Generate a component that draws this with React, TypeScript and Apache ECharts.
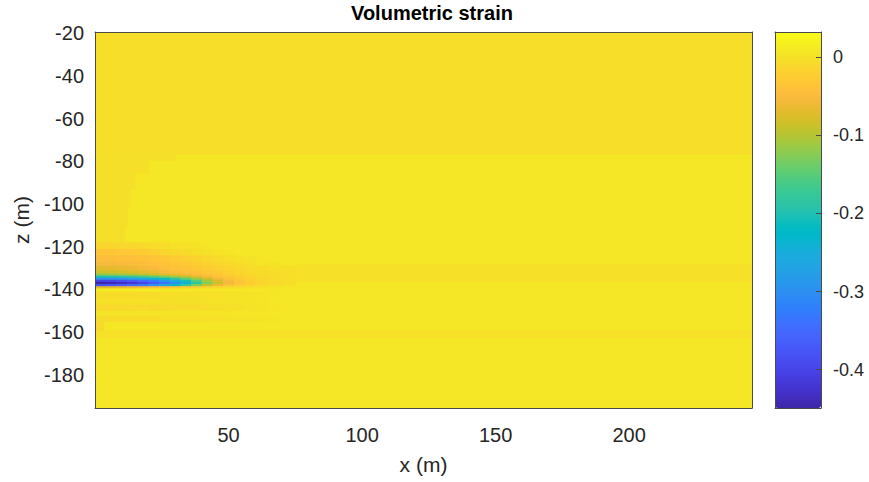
import React, { useEffect, useRef } from "react";
import * as echarts from "echarts";

// ---------- data ----------
const xTickValues = [50, 100, 150, 200];
const zTickValues = [-180, -160, -140, -120, -100, -80, -60, -40, -20];
const cbarTickValues = [-0.4, -0.3, -0.2, -0.1, 0];
const xRange = [0, 246];
const zRange = [-195.5, -19.5];
const valueRange = [-0.449, 0.032];

// full-width horizontal bands of the background field
const bandTop = [-19.5, -77, -128.5, -136.5, -159, -162.7];
const bandBottom = [-77, -128.5, -136.5, -159, -162.7, -195.5];
const bandValue = [-0.004, 0.005, -0.002, 0.005, -0.002, 0.007];

// upper-left curved extension of the top band
const cornerRight = [30, 20, 15, 13, 12, 11];
const cornerTop = [-77, -79.5, -85.5, -93, -101, -111];
const cornerBottom = [-79.5, -85.5, -93, -101, -111, -118];
const cornerValue = [-0.003, -0.003, -0.003, -0.003, -0.003, -0.003];

// small patch at the lower-left edge
const edgeSpot = [0, 3, -154, -159, -0.012];

// detailed anomaly patch (x edges, z edges, values row by row)
const patchXEdges = [0, 4, 8, 12, 16, 20, 24, 28, 32, 36, 40, 44, 48, 52, 56, 60, 65, 70, 75];
const patchZEdges = [-118, -121, -124, -127, -129, -131, -132.5, -133.5, -134.5, -135.5, -136.5, -137.5, -138.5, -139.5, -141, -144, -147, -150, -152.5, -155];
const rowA = [-0.014, -0.014, -0.013, -0.012, -0.01, -0.008, -0.005, -0.002, 0, 0.002, 0.004, 0.005, 0.005, 0.005, 0.005, 0.005, 0.005, 0.005];
const rowB = [-0.034, -0.034, -0.032, -0.029, -0.025, -0.02, -0.015, -0.011, -0.007, -0.003, 0, 0.002, 0.004, 0.005, 0.005, 0.005, 0.005, 0.005];
const rowC = [-0.045, -0.045, -0.043, -0.041, -0.038, -0.035, -0.031, -0.027, -0.022, -0.017, -0.012, -0.008, -0.004, -0.001, 0.002, 0.004, 0.005, 0.005];
const rowD = [-0.055, -0.054, -0.052, -0.049, -0.046, -0.042, -0.038, -0.034, -0.029, -0.024, -0.019, -0.014, -0.01, -0.006, -0.002, 0.001, 0.003, 0.005];
const rowE = [-0.07, -0.068, -0.065, -0.061, -0.056, -0.05, -0.045, -0.04, -0.035, -0.03, -0.025, -0.02, -0.016, -0.012, -0.008, -0.005, -0.004, -0.003];
const rowF = [-0.085, -0.083, -0.079, -0.074, -0.068, -0.061, -0.055, -0.049, -0.043, -0.037, -0.031, -0.025, -0.019, -0.014, -0.01, -0.007, -0.005, -0.004];
const rowG = [-0.12, -0.117, -0.111, -0.103, -0.094, -0.084, -0.074, -0.064, -0.055, -0.046, -0.038, -0.03, -0.023, -0.017, -0.012, -0.008, -0.006, -0.004];
const rowH = [-0.2, -0.196, -0.19, -0.18, -0.166, -0.15, -0.132, -0.112, -0.092, -0.072, -0.055, -0.041, -0.03, -0.021, -0.014, -0.009, -0.006, -0.004];
const rowI = [-0.3, -0.296, -0.288, -0.276, -0.26, -0.24, -0.215, -0.185, -0.15, -0.115, -0.083, -0.058, -0.04, -0.028, -0.019, -0.012, -0.007, -0.004];
const rowJ = [-0.4, -0.395, -0.385, -0.37, -0.35, -0.325, -0.29, -0.25, -0.205, -0.155, -0.11, -0.075, -0.051, -0.034, -0.022, -0.014, -0.008, -0.004];
const rowK = [-0.449, -0.442, -0.432, -0.418, -0.398, -0.372, -0.338, -0.295, -0.24, -0.18, -0.125, -0.085, -0.057, -0.038, -0.025, -0.016, -0.009, -0.005];
const rowL = [-0.38, -0.375, -0.365, -0.35, -0.33, -0.3, -0.265, -0.22, -0.175, -0.13, -0.09, -0.06, -0.04, -0.027, -0.018, -0.011, -0.006, 0];
const rowM = [-0.07, -0.068, -0.064, -0.059, -0.053, -0.047, -0.041, -0.035, -0.029, -0.023, -0.018, -0.013, -0.009, -0.006, -0.003, 0, 0.003, 0.005];
const rowN = [0.012, 0.012, 0.012, 0.011, 0.01, 0.01, 0.009, 0.008, 0.008, 0.007, 0.007, 0.006, 0.006, 0.005, 0.005, 0.005, 0.005, 0.005];
const rowO = [-0.006, -0.006, -0.006, -0.005, -0.005, -0.005, -0.004, -0.004, -0.003, -0.003, -0.002, -0.001, 0, 0.001, 0.002, 0.003, 0.004, 0.005];
const rowP = [-0.002, -0.002, -0.002, -0.002, -0.001, -0.001, -0.001, 0, 0, 0, 0.001, 0.001, 0.002, 0.002, 0.003, 0.004, 0.005, 0.005];
const rowQ = [-0.01, -0.009, -0.009, -0.008, -0.008, -0.007, -0.007, -0.006, -0.005, -0.005, -0.004, -0.003, -0.002, -0.001, 0.001, 0.003, 0.004, 0.005];
const rowR = [0.001, 0.001, 0.002, 0.002, 0.002, 0.002, 0.003, 0.003, 0.003, 0.003, 0.004, 0.004, 0.004, 0.005, 0.005, 0.005, 0.005, 0.005];
const rowS = [-0.007, -0.006, -0.006, -0.006, -0.005, -0.005, -0.004, -0.004, -0.003, -0.003, -0.002, -0.001, 0, 0.001, 0.002, 0.003, 0.004, 0.005];
const patchRows = [rowA, rowB, rowC, rowD, rowE, rowF, rowG, rowH, rowI, rowJ, rowK, rowL, rowM, rowN, rowO, rowP, rowQ, rowR, rowS];

// ---------- style ----------
const PARULA: number[][] = [
  [0.2422, 0.1504, 0.6603], [0.2504, 0.165, 0.7076], [0.2578, 0.1818, 0.7511], [0.2647, 0.1978, 0.7952],
  [0.2706, 0.2147, 0.8364], [0.2751, 0.2342, 0.871], [0.2783, 0.2559, 0.8991], [0.2803, 0.2782, 0.9221],
  [0.2813, 0.3006, 0.9414], [0.281, 0.3228, 0.9579], [0.2795, 0.3447, 0.9717], [0.276, 0.3667, 0.9829],
  [0.2699, 0.3892, 0.9906], [0.2602, 0.4123, 0.9952], [0.244, 0.4358, 0.9988], [0.2206, 0.4603, 0.9973],
  [0.1963, 0.4847, 0.9892], [0.1834, 0.5074, 0.9798], [0.1786, 0.5289, 0.9682], [0.1764, 0.5499, 0.952],
  [0.1687, 0.5703, 0.9359], [0.154, 0.5902, 0.9218], [0.146, 0.6091, 0.9079], [0.138, 0.6276, 0.8973],
  [0.1248, 0.6459, 0.8883], [0.1113, 0.6635, 0.8763], [0.0952, 0.6798, 0.8598], [0.0689, 0.6948, 0.8394],
  [0.0297, 0.7082, 0.8163], [0.0036, 0.7203, 0.7917], [0.0067, 0.7312, 0.766], [0.0433, 0.7411, 0.7394],
  [0.0964, 0.75, 0.712], [0.1408, 0.7584, 0.6842], [0.1717, 0.767, 0.6554], [0.1938, 0.7758, 0.6251],
  [0.2161, 0.7843, 0.5923], [0.247, 0.7918, 0.5567], [0.2906, 0.7973, 0.5188], [0.3406, 0.8008, 0.4789],
  [0.3909, 0.8029, 0.4354], [0.4456, 0.8024, 0.3909], [0.5044, 0.7993, 0.348], [0.5616, 0.7942, 0.3045],
  [0.6174, 0.7876, 0.2612], [0.672, 0.7793, 0.2227], [0.7242, 0.7698, 0.191], [0.7738, 0.7598, 0.1646],
  [0.8203, 0.7498, 0.1535], [0.8634, 0.7406, 0.1596], [0.9035, 0.733, 0.1774], [0.9393, 0.7288, 0.21],
  [0.9728, 0.7298, 0.2394], [0.9956, 0.7434, 0.2371], [0.997, 0.7659, 0.2199], [0.9952, 0.7893, 0.2028],
  [0.9892, 0.8136, 0.1885], [0.9786, 0.8386, 0.1766], [0.9676, 0.8639, 0.1643], [0.961, 0.889, 0.1537],
  [0.9597, 0.9135, 0.1423], [0.9628, 0.9373, 0.1265], [0.9691, 0.9606, 0.1064], [0.9769, 0.9839, 0.0805],
];
const parulaColors = PARULA.map(
  (c) => `rgb(${Math.round(c[0] * 255)},${Math.round(c[1] * 255)},${Math.round(c[2] * 255)})`
);

const FONT = "'Liberation Sans', Arial, Helvetica, sans-serif";
const TEXT = "#262626";
const FRAME = "#4a4a4a";

function buildCells(): number[][] {
  const cells: number[][] = [];
  bandValue.forEach((v, i) => cells.push([xRange[0], xRange[1], bandTop[i], bandBottom[i], v]));
  cornerValue.forEach((v, i) => cells.push([xRange[0], cornerRight[i], cornerTop[i], cornerBottom[i], v]));
  cells.push(edgeSpot);
  patchRows.forEach((row, r) => {
    row.forEach((v, c) => {
      cells.push([patchXEdges[c], patchXEdges[c + 1], patchZEdges[r], patchZEdges[r + 1], v]);
    });
  });
  return cells;
}

export default function App() {
  const ref = useRef<HTMLDivElement>(null);
  useEffect(() => {
    document.body.style.margin = "0";
    if (!ref.current) return;
    const chart = echarts.init(ref.current, null, { renderer: "svg" });
    const cells = buildCells();

    const frameAxis = (extra: any) => ({
      type: "value",
      axisLine: { show: true, onZero: false, lineStyle: { color: FRAME, width: 1 } },
      axisTick: { show: false },
      axisLabel: { show: false },
      splitLine: { show: false },
      z: 10,
      ...extra,
    });

    chart.setOption({
      animation: false,
      textStyle: { fontFamily: FONT },
      graphic: [
        {
          type: "text",
          x: 432,
          y: 3,
          style: {
            text: "Volumetric strain",
            font: `bold 20px ${FONT}`,
            fill: "#000",
            textAlign: "center",
            textVerticalAlign: "top",
          },
        },
      ],
      grid: [
        { left: 95, top: 32, width: 657, height: 376 },
        { left: 775, top: 32, width: 46, height: 376 },
      ],
      xAxis: [
        {
          type: "value",
          gridIndex: 0,
          position: "bottom",
          min: xRange[0],
          max: xRange[1],
          axisLine: { show: true, onZero: false, lineStyle: { color: FRAME, width: 1 } },
          axisTick: { show: false },
          splitLine: { show: false },
          axisLabel: {
            customValues: xTickValues,
            fontSize: 20,
            color: TEXT,
            margin: 17,
            fontFamily: FONT,
          },
          name: "x (m)",
          nameLocation: "middle",
          nameGap: 46,
          nameTextStyle: { fontSize: 21, color: TEXT, fontFamily: FONT },
          z: 10,
        },
        frameAxis({ gridIndex: 0, position: "top", min: xRange[0], max: xRange[1] }),
        frameAxis({ gridIndex: 1, position: "bottom", min: 0, max: 1 }),
        frameAxis({ gridIndex: 1, position: "top", min: 0, max: 1 }),
      ],
      yAxis: [
        {
          type: "value",
          gridIndex: 0,
          position: "left",
          min: zRange[0],
          max: zRange[1],
          axisLine: { show: true, onZero: false, lineStyle: { color: FRAME, width: 1 } },
          axisTick: { show: false },
          splitLine: { show: false },
          axisLabel: {
            customValues: zTickValues,
            fontSize: 20,
            color: TEXT,
            margin: 11,
            fontFamily: FONT,
          },
          name: "z (m)",
          nameLocation: "middle",
          nameGap: 63,
          nameRotate: 90,
          nameTextStyle: { fontSize: 21, color: TEXT, fontFamily: FONT },
          z: 10,
        },
        frameAxis({ gridIndex: 0, position: "right", min: zRange[0], max: zRange[1] }),
        {
          type: "value",
          gridIndex: 1,
          position: "right",
          min: valueRange[0],
          max: valueRange[1],
          axisLine: { show: true, onZero: false, lineStyle: { color: FRAME, width: 1 } },
          axisTick: {
            show: true,
            inside: true,
            length: 5,
            customValues: cbarTickValues,
            lineStyle: { color: FRAME, width: 1 },
          },
          splitLine: { show: false },
          axisLabel: {
            customValues: cbarTickValues,
            fontSize: 18,
            color: TEXT,
            margin: 12,
            fontFamily: FONT,
            formatter: (v: number) => String(Math.round(v * 10) / 10),
          },
          z: 10,
        },
        frameAxis({ gridIndex: 1, position: "left", min: valueRange[0], max: valueRange[1] }),
      ],
      visualMap: {
        type: "continuous",
        min: valueRange[0],
        max: valueRange[1],
        dimension: 4,
        seriesIndex: 0,
        inRange: { color: parulaColors },
        left: 775,
        top: 32,
        itemWidth: 46,
        itemHeight: 376,
        padding: 0,
        calculable: false,
        hoverLink: false,
        orient: "vertical",
        z: 2,
      },
      series: [
        {
          type: "custom",
          xAxisIndex: 0,
          yAxisIndex: 0,
          clip: true,
          encode: { x: [0, 1], y: [2, 3] },
          data: cells,
          renderItem: (params: any, api: any) => {
            const a = api.coord([api.value(0), api.value(2)]);
            const b = api.coord([api.value(1), api.value(3)]);
            return {
              type: "rect",
              shape: {
                x: Math.min(a[0], b[0]),
                y: Math.min(a[1], b[1]),
                width: Math.abs(b[0] - a[0]) + 0.6,
                height: Math.abs(b[1] - a[1]) + 0.6,
              },
              style: { fill: api.visual("color") },
            };
          },
        },
      ],
    });
    return () => chart.dispose();
  }, []);
  return <div ref={ref} style={{ width: 869, height: 482 }} />;
}
